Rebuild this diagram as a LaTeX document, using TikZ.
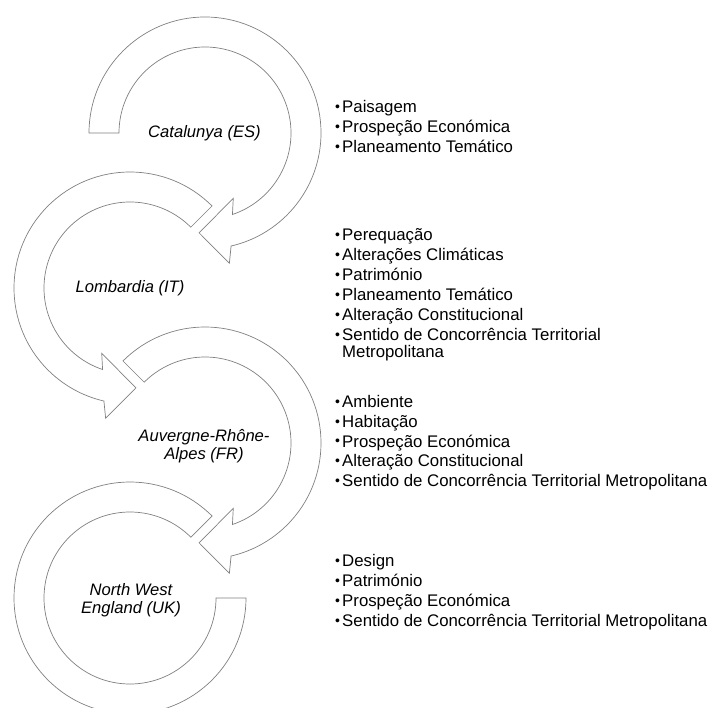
\documentclass[tikz,border=0pt]{standalone}
\usepackage{fontspec}
\setmainfont{Liberation Sans}
\newcommand\itembullet{\makebox[7pt][l]{\raisebox{1.1pt}{\fontsize{14}{14}\selectfont •}}}
\begin{document}
\begin{tikzpicture}[x=1pt,y=1pt,
  band/.style={draw=black!50, line width=0.7pt, fill=white, line join=miter},
  region/.style={font=\fontsize{16.6}{17.5}\selectfont\itshape, align=center, inner sep=0pt},
  item/.style={font=\fontsize{16.8}{17.5}\selectfont, anchor=base west, inner sep=0pt}]
\useasboundingbox (0,0) rectangle (711,-708);
\clip (0,0) rectangle (711,-708);

% circular arrow bands (outer radius 116, inner radius 86)
% Catalunya: clockwise from the left side round to the bottom
\begin{scope}[shift={(205,-133)}]
  \draw[band] (180:116) arc[start angle=180, end angle=-77, radius=116]
    -- (-79.4:132.5) -- (-93.4:100) -- (-66.6:71.2) -- (-71.4:86)
    arc[start angle=-71.4, end angle=180, radius=86] -- cycle;
\end{scope}
% Lombardia: counter-clockwise from the upper right
\begin{scope}[shift={(130,-288)}]
  \draw[band] (45:116) arc[start angle=45, end angle=257, radius=116]
    -- (259.4:132.5) -- (273.4:100) -- (246.6:71.2) -- (251.4:86)
    arc[start angle=251.4, end angle=45, radius=86] -- cycle;
\end{scope}
% Auvergne-Rhone-Alpes: clockwise from the upper left
\begin{scope}[shift={(205,-443)}]
  \draw[band] (135:116) arc[start angle=135, end angle=-77, radius=116]
    -- (-79.4:132.5) -- (-93.4:100) -- (-66.6:71.2) -- (-71.4:86)
    arc[start angle=-71.4, end angle=135, radius=86] -- cycle;
\end{scope}
% North West England: counter-clockwise, flat end on the right
\begin{scope}[shift={(130,-598)}]
  \draw[band] (45:116) arc[start angle=45, end angle=360, radius=116]
    -- (360:86) arc[start angle=360, end angle=45, radius=86] -- cycle;
\end{scope}

% region names
\node[region] (es) at (204.5,-133) {Catalunya (ES)};
\node[region] (it) at (130,-288) {Lombardia (IT)};
\node[region] (fr) at (204,-446) {Auvergne-Rhône-\\Alpes (FR)};
\node[region] (uk) at (131,-600) {North West\\England (UK)};

% themes per region
\foreach \t [count=\i] in {Paisagem, Prospeção Económica, Planeamento Temático}
  \node[item] (es-\i) at (335,{-113-20*(\i-1)}) {\itembullet\t};

\foreach \t [count=\i] in {Perequação, Alterações Climáticas, Património,
    Planeamento Temático, Alteração Constitucional,
    Sentido de Concorrência Territorial}
  \node[item] (it-\i) at (335,{-240.3-20*(\i-1)}) {\itembullet\t};
\node[item] (it-7) at (342,-357) {Metropolitana};

\foreach \t [count=\i] in {Ambiente, Habitação, Prospeção Económica,
    Alteração Constitucional, Sentido de Concorrência Territorial Metropolitana}
  \node[item] (fr-\i) at (335,{-407.3-19.85*(\i-1)}) {\itembullet\t};

\foreach \t [count=\i] in {Design, Património, Prospeção Económica,
    Sentido de Concorrência Territorial Metropolitana}
  \node[item] (uk-\i) at (335,{-566.3-20*(\i-1)}) {\itembullet\t};
\end{tikzpicture}
\end{document}
